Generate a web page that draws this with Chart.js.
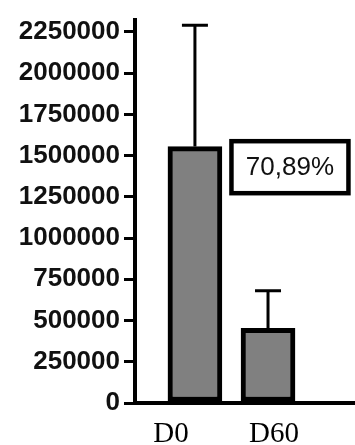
<!DOCTYPE html>
<html>
<head>
<meta charset="utf-8">
<script src="https://cdn.jsdelivr.net/npm/chart.js@4.4.1/dist/chart.umd.min.js"></script>
<style>
  html, body { margin: 0; padding: 0; background: #ffffff; }
  #wrap { width: 355px; height: 445px; }
</style>
</head>
<body>
<div id="wrap"><canvas id="c" width="355" height="445"></canvas></div>
<script>
// Group names, means and upper error (SD) for each group
const categories = ['D0', 'D60'];
const means = [1555000, 452600];
const errors = [735000, 228000];

// Y axis range and tick values
const yMax = 2325000;
const yTicks = [0, 250000, 500000, 750000, 1000000, 1250000, 1500000, 1750000, 2000000, 2250000];

// Reduction note between the two groups
const noteText = '70,89%';
const notePos = { x: 1.3, y: 1430000 };

// Bar data on a numeric index axis (0 = D0, 1 = D60)
const barData = categories.map((c, i) => ({ x: i, y: means[i] }));

// Error bars: vertical stem from the bar top with a horizontal cap
const errorBarPlugin = {
  id: 'errorBars',
  afterDatasetsDraw(chart) {
    const { ctx, scales: { x, y } } = chart;
    ctx.save();
    ctx.strokeStyle = '#000';
    ctx.lineWidth = 3;
    ctx.lineCap = 'butt';
    means.forEach((m, i) => {
      const px = x.getPixelForValue(i);
      const yBar = y.getPixelForValue(m);
      const yTop = y.getPixelForValue(m + errors[i]);
      ctx.beginPath();
      ctx.moveTo(px, yBar);
      ctx.lineTo(px, yTop);
      ctx.moveTo(px - 13, yTop);
      ctx.lineTo(px + 13, yTop);
      ctx.stroke();
    });
    ctx.restore();
  }
};

// Category labels under the axis and the boxed percentage note
const labelsPlugin = {
  id: 'labelsAndNote',
  afterDraw(chart) {
    const { ctx, scales: { x, y } } = chart;
    const shifts = [-24, 6];
    ctx.save();
    ctx.fillStyle = '#000';
    ctx.font = '29px "Liberation Serif", "Times New Roman", serif';
    ctx.textAlign = 'center';
    ctx.textBaseline = 'alphabetic';
    categories.forEach((c, i) => {
      ctx.fillText(c, x.getPixelForValue(i) + shifts[i], 442);
    });

    const cx = x.getPixelForValue(notePos.x);
    const cy = y.getPixelForValue(notePos.y);
    const w = 117, h = 52;
    ctx.lineWidth = 4.5;
    ctx.strokeStyle = '#000';
    ctx.fillStyle = '#fff';
    ctx.fillRect(cx - w / 2, cy - h / 2, w, h);
    ctx.strokeRect(cx - w / 2, cy - h / 2, w, h);
    ctx.fillStyle = '#111';
    ctx.font = '26px "Liberation Sans", Arial, sans-serif';
    ctx.textAlign = 'center';
    ctx.textBaseline = 'middle';
    ctx.fillText(noteText, cx, cy + 1);
    ctx.restore();
  }
};

new Chart(document.getElementById('c'), {
  type: 'bar',
  data: {
    datasets: [{
      data: barData,
      backgroundColor: '#808080',
      borderColor: '#000',
      borderWidth: 5,
      borderSkipped: false,
      barThickness: 54
    }]
  },
  options: {
    responsive: false,
    animation: false,
    devicePixelRatio: 1,
    layout: { padding: { top: 16, right: 0, bottom: 0, left: 0 } },
    plugins: {
      legend: { display: false },
      tooltip: { enabled: false }
    },
    scales: {
      x: {
        type: 'linear',
        offset: false,
        min: -0.82,
        max: 2.19,
        ticks: { display: false },
        grid: { display: false, drawTicks: false, offset: false },
        border: { display: true, color: '#000', width: 4 },
        afterFit(scale) { scale.height = 42; }
      },
      y: {
        min: 0,
        max: yMax,
        ticks: {
          autoSkip: false,
          color: '#111',
          padding: 4,
          font: { family: '"Liberation Sans", Arial, sans-serif', size: 26, weight: 'bold' },
          callback: (v) => String(v)
        },
        afterBuildTicks(scale) {
          scale.ticks = yTicks.map(v => ({ value: v }));
        },
        grid: {
          drawOnChartArea: false,
          drawTicks: true,
          tickLength: 11,
          lineWidth: 3,
          color: '#000'
        },
        border: { display: true, color: '#000', width: 4 },
        afterFit(scale) { scale.width = 135; }
      }
    }
  },
  plugins: [errorBarPlugin, labelsPlugin]
});
</script>
</body>
</html>
